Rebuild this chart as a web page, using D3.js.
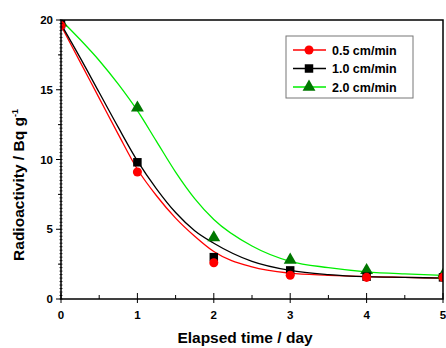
<!DOCTYPE html>
<html>
<head>
<meta charset="utf-8">
<title>Radioactivity vs elapsed time</title>
<style>
  body { margin: 0; background: #fff; }
  text { font-family: "Liberation Sans", Arial, sans-serif; }
</style>
</head>
<body>
<div id="container"></div>
<script src="https://d3js.org/d3.v7.min.js"></script>
<script>

// measured points (day, Bq/g)
const days = [0, 1, 2, 3, 4, 5];
const red05 = [19.6, 9.1, 2.6, 1.7, 1.55, 1.55];
const black10 = [19.7, 9.8, 3.0, 2.05, 1.6, 1.55];
const green20 = [19.8, 13.7, 4.4, 2.8, 2.05, 1.7];

// fitted curves
const fitDays = [0, 0.25, 0.5, 0.75, 1, 1.25, 1.5, 1.75, 2, 2.5, 3, 3.5, 4, 4.5, 5];
const fitRed = [19.6, 17.0, 14.4, 11.8, 9.3, 7.4, 5.8, 4.5, 3.4, 2.3, 1.85, 1.7, 1.6, 1.55, 1.5];
const fitBlack = [19.7, 17.3, 14.8, 12.3, 9.9, 7.9, 6.2, 4.9, 4.0, 2.7, 2.05, 1.75, 1.6, 1.55, 1.5];
const fitGreen = [20.0, 18.6, 17.1, 15.4, 13.5, 11.3, 9.1, 7.2, 5.7, 3.8, 2.7, 2.25, 1.95, 1.8, 1.7];

const seriesNames = ["0.5 cm/min", "1.0 cm/min", "2.0 cm/min"];
const xTicks = [0, 1, 2, 3, 4, 5];
const yTicks = [0, 5, 10, 15, 20];

const width = 446;
const height = 348;
const margin = {left: 61, top: 20, right: 3, bottom: 49};

const x = d3.scaleLinear().domain([0, 5]).range([margin.left, width - margin.right]);
const y = d3.scaleLinear().domain([0, 20]).range([height - margin.bottom, margin.top]);

const series = [
  {name: seriesNames[0], pts: red05, fit: fitRed, line: "#ff0000", fill: "#ff0000", shape: "circle"},
  {name: seriesNames[1], pts: black10, fit: fitBlack, line: "#000000", fill: "#000000", shape: "square"},
  {name: seriesNames[2], pts: green20, fit: fitGreen, line: "#00ee00", fill: "#007700", shape: "triangle"}
];

const svg = d3.select("#container").append("svg")
    .attr("width", width)
    .attr("height", height);

svg.append("defs").append("clipPath").attr("id", "plot")
  .append("rect")
    .attr("x", margin.left).attr("y", margin.top)
    .attr("width", x(5) - x(0)).attr("height", y(0) - y(20));

const symbolFor = shape => {
  if (shape === "circle") return d3.symbol(d3.symbolCircle, 64)();
  if (shape === "square") return d3.symbol(d3.symbolSquare, 72)();
  return d3.symbol(d3.symbolTriangle, 72)();
};

const line = d3.line()
  .x(d => x(d[0]))
  .y(d => y(d[1]))
  .curve(d3.curveMonotoneX);

const plot = svg.append("g").attr("clip-path", "url(#plot)");

series.forEach(s => {
  plot.append("path")
    .attr("d", line(fitDays.map((t, i) => [t, s.fit[i]])))
    .attr("fill", "none")
    .attr("stroke", s.line)
    .attr("stroke-width", 1.3);
});

// markers: green first, red on top
series.slice().reverse().forEach(s => {
  plot.selectAll(null)
    .data(days.map((t, i) => [t, s.pts[i]]))
    .enter().append("path")
      .attr("d", symbolFor(s.shape))
      .attr("transform", d => `translate(${x(d[0])},${y(d[1])})`)
      .attr("fill", s.fill);
});

// axes frame
const axis = svg.append("g").attr("stroke", "#000").attr("fill", "none");
axis.append("rect")
  .attr("x", x(0)).attr("y", y(20))
  .attr("width", x(5) - x(0)).attr("height", y(0) - y(20))
  .attr("stroke-width", 1.5);

// dense small ticks on the left spine
d3.range(0, 20.01, 0.25).forEach(v => {
  axis.append("line")
    .attr("x1", x(0) - 1.5).attr("x2", x(0) + 1.5)
    .attr("y1", y(v)).attr("y2", y(v))
    .attr("stroke-width", 0.8);
});
d3.range(0, 5.01, 0.5).forEach(v => {
  const major = Number.isInteger(v);
  axis.append("line")
    .attr("x1", x(v)).attr("x2", x(v))
    .attr("y1", y(0) - (major ? 6 : 4)).attr("y2", y(0) + (major ? 4 : 0))
    .attr("stroke-width", 1);
});
d3.range(0, 20.01, 2.5).forEach(v => {
  const major = v % 5 === 0;
  axis.append("line")
    .attr("x1", x(0) - (major ? 5 : 3)).attr("x2", x(0))
    .attr("y1", y(v)).attr("y2", y(v))
    .attr("stroke-width", 1);
});

svg.append("g").selectAll("text")
  .data(yTicks).enter().append("text")
    .attr("x", x(0) - 8)
    .attr("y", d => y(d) + 4)
    .attr("text-anchor", "end")
    .attr("font-size", 11.5)
    .attr("font-weight", "bold")
    .text(d => d);

svg.append("g").selectAll("text")
  .data(xTicks).enter().append("text")
    .attr("x", d => x(d))
    .attr("y", y(0) + 20)
    .attr("text-anchor", "middle")
    .attr("font-size", 11.5)
    .attr("font-weight", "bold")
    .text(d => d);

svg.append("text")
  .attr("x", 245).attr("y", 343)
  .attr("text-anchor", "middle")
  .attr("font-size", 15.5)
  .attr("font-weight", "bold")
  .text("Elapsed time / day");

const yt = svg.append("text")
  .attr("transform", "translate(24,185) rotate(-90)")
  .attr("text-anchor", "middle")
  .attr("font-size", 15.5)
  .attr("font-weight", "bold");
yt.append("tspan").text("Radioactivity / Bq g");
yt.append("tspan").attr("dy", -6).attr("font-size", 9).text("-1");

// legend
const legend = svg.append("g");
legend.append("rect")
  .attr("x", 286).attr("y", 36)
  .attr("width", 127).attr("height", 62)
  .attr("fill", "#fff")
  .attr("stroke", "#777")
  .attr("stroke-width", 1);

series.forEach((s, i) => {
  const ly = 50 + i * 18.5;
  legend.append("line")
    .attr("x1", 293).attr("x2", 326)
    .attr("y1", ly).attr("y2", ly)
    .attr("stroke", s.line).attr("stroke-width", 1.3);
  legend.append("path")
    .attr("d", symbolFor(s.shape))
    .attr("transform", `translate(309,${ly})`)
    .attr("fill", s.fill);
  legend.append("text")
    .attr("x", 332).attr("y", ly + 4.5)
    .attr("font-size", 12.5)
    .attr("font-weight", "bold")
    .text(s.name);
});

</script>
</body>
</html>
